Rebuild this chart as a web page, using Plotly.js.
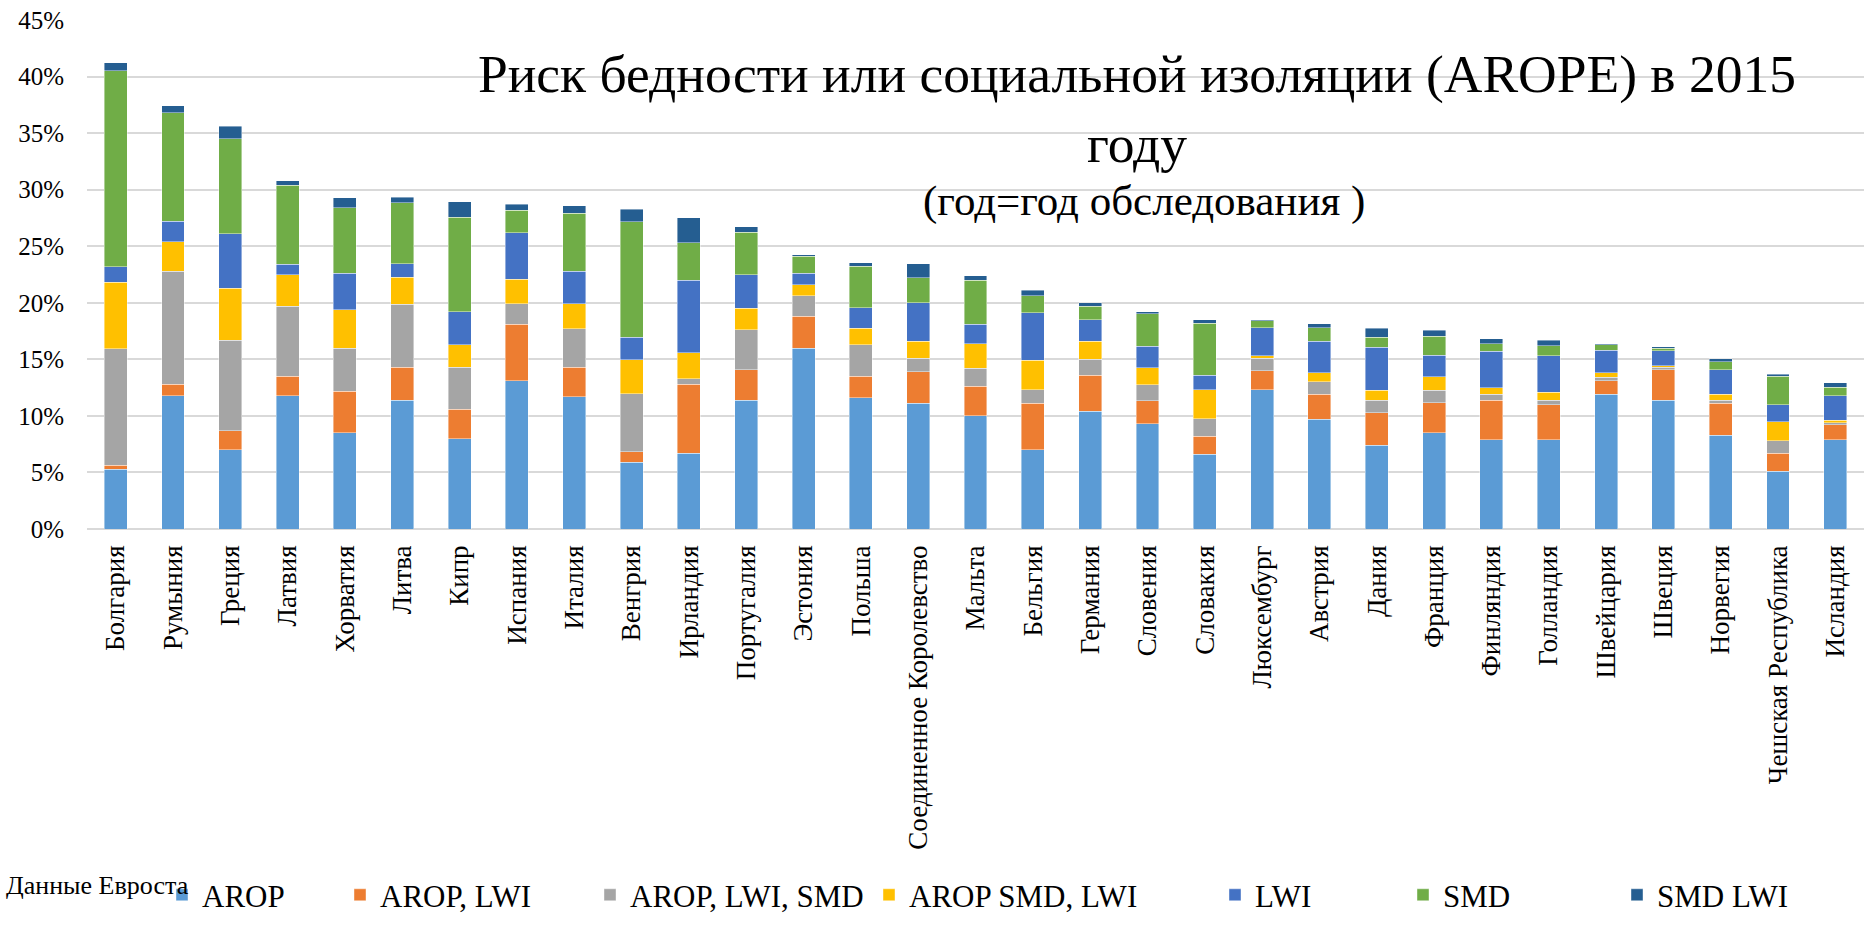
<!DOCTYPE html>
<html>
<head>
<meta charset="utf-8">
<script src="https://cdn.plot.ly/plotly-3.0.1.min.js"></script>
<style>html,body{margin:0;padding:0;background:#fff;}#chart{width:1864px;height:931px;}</style>
</head>
<body>
<div id="chart"></div>
<script>
const countries = ['Болгария','Румыния','Греция','Латвия','Хорватия','Литва','Кипр','Испания','Италия','Венгрия','Ирландия','Португалия','Эстония','Польша','Соединенное Королевство','Мальта','Бельгия','Германия','Словения','Словакия','Люксембург','Австрия','Дания','Франция','Финляндия','Голландия','Швейцария','Швеция','Норвегия','Чешская Республика','Исландия'];

const seriesNames = ['AROP','AROP, LWI','AROP, LWI, SMD','AROP SMD, LWI','LWI','SMD','SMD LWI'];

const arop       = [5.3, 11.8, 7.0, 11.8, 8.5, 11.4, 8.0, 13.1, 11.7, 5.9, 6.7, 11.4, 16.0, 11.6, 11.1, 10.0, 7.0, 10.4, 9.3, 6.6, 12.3, 9.7, 7.4, 8.5, 7.9, 7.9, 11.9, 11.4, 8.3, 5.1, 7.9];
const aropLwi    = [0.35, 1.0, 1.7, 1.7, 3.7, 2.9, 2.6, 5.0, 2.6, 0.95, 6.1, 2.7, 2.8, 1.9, 2.8, 2.6, 4.1, 3.2, 2.05, 1.6, 1.7, 2.2, 2.9, 2.65, 3.5, 3.1, 1.2, 2.7, 2.8, 1.6, 1.3];
const aropLwiSmd = [10.3, 10.0, 8.0, 6.2, 3.8, 5.55, 3.7, 1.8, 3.4, 5.1, 0.5, 3.5, 1.8, 2.8, 1.2, 1.6, 1.2, 1.4, 1.4, 1.55, 1.1, 1.1, 1.1, 1.1, 0.5, 0.4, 0.3, 0.2, 0.3, 1.1, 0.2];
const aropSmdLwi = [5.85, 2.6, 4.6, 2.8, 3.4, 2.4, 2.0, 2.2, 2.2, 3.0, 2.3, 1.9, 1.0, 1.45, 1.5, 2.2, 2.6, 1.6, 1.5, 2.55, 0.2, 0.8, 0.85, 1.2, 0.6, 0.7, 0.4, 0.15, 0.5, 1.7, 0.2];
const lwi        = [1.4, 1.8, 4.8, 0.9, 3.2, 1.2, 2.9, 4.1, 2.9, 2.0, 6.4, 3.0, 1.0, 1.8, 3.4, 1.7, 4.2, 1.9, 1.9, 1.3, 2.5, 2.8, 3.8, 1.9, 3.2, 3.2, 2.0, 1.3, 2.2, 1.5, 2.2];
const smd        = [17.3, 9.6, 8.4, 7.0, 5.8, 5.4, 8.35, 2.0, 5.1, 10.2, 3.3, 3.75, 1.5, 3.7, 2.2, 3.9, 1.5, 1.2, 2.9, 4.6, 0.6, 1.2, 0.9, 1.7, 0.7, 0.9, 0.5, 0.25, 0.7, 2.5, 0.75];
const smdLwi     = [0.7, 0.6, 1.1, 0.4, 0.9, 0.5, 1.4, 0.5, 0.7, 1.1, 2.2, 0.45, 0.15, 0.3, 1.25, 0.4, 0.5, 0.3, 0.15, 0.3, 0.1, 0.35, 0.8, 0.5, 0.4, 0.5, 0.1, 0.12, 0.25, 0.2, 0.4];

const yTickVals = [0, 5, 10, 15, 20, 25, 30, 35, 40, 45];
const yTickText = ['0%','5%','10%','15%','20%','25%','30%','35%','40%','45%'];

const titleText = 'Риск бедности или социальной изоляции (AROPE) в 2015<br>году';
const subtitleText = '(год=год обследования )';
const sourceText = 'Данные Евроста';

const colors = ['#5B9BD5','#ED7D31','#A5A5A5','#FFC000','#4472C4','#70AD47','#255E91'];
const allSeries = [arop, aropLwi, aropLwiSmd, aropSmdLwi, lwi, smd, smdLwi];

const FONT = '"Liberation Serif", "Times New Roman", serif';
const L = 87, W = 1864 - 87, T = 20, H = 509.5;
const px2x = px => (px - L) / W;
const py2y = py => (T + H - py) / H;

const legendCenters = [182, 360, 610, 889, 1235, 1423, 1637];
const legendNames = ['legend','legend2','legend3','legend4','legend5','legend6','legend7'];

const traces = allSeries.map((vals, i) => ({
  type: 'bar',
  name: seriesNames[i],
  x: countries,
  y: vals,
  marker: {color: colors[i], line: {color: 'rgba(255,255,255,0.7)', width: 0.6}},
  legend: legendNames[i],
  hoverinfo: 'x+y+name'
}));

const layout = {
  width: 1864, height: 931,
  margin: {l: L, r: 0, t: T, b: 931 - T - H, autoexpand: false},
  paper_bgcolor: '#fff', plot_bgcolor: '#fff',
  barmode: 'stack',
  bargap: 0.6,
  font: {family: FONT, color: '#000'},
  title: {
    text: titleText,
    font: {family: FONT, size: 53.5, color: '#000'},
    xref: 'container', x: 1137 / 1864, xanchor: 'center',
    yref: 'container', y: 1 - 92 / 931, yanchor: 'top'
  },
  xaxis: {
    type: 'category',
    tickangle: -90,
    tickfont: {family: FONT, size: 27, color: '#000'},
    showgrid: false, showline: false, ticks: '',
    ticklabelstandoff: 10,
    automargin: false
  },
  yaxis: {
    range: [0, 45],
    tickvals: yTickVals, ticktext: yTickText,
    tickfont: {family: FONT, size: 25, color: '#000'},
    gridcolor: '#D9D9D9', gridwidth: 1.5,
    zeroline: true, zerolinecolor: '#D9D9D9', zerolinewidth: 1.5,
    showline: false, ticks: '',
    ticklabelstandoff: 22,
    automargin: false, fixedrange: true
  },
  annotations: [
    {text: subtitleText, xref: 'paper', yref: 'paper', x: px2x(1144), y: py2y(201),
     xanchor: 'center', yanchor: 'middle', showarrow: false,
     font: {family: FONT, size: 43, color: '#000'}},
    {text: sourceText, xref: 'paper', yref: 'paper', x: px2x(4), y: py2y(886),
     xanchor: 'left', yanchor: 'middle', showarrow: false,
     font: {family: FONT, size: 26, color: '#000'}}
  ],
  showlegend: true
};

legendNames.forEach((ln, i) => {
  layout[ln] = {
    orientation: 'h',
    x: px2x(legendCenters[i] - 20), xanchor: 'left',
    y: py2y(896), yanchor: 'middle',
    bgcolor: 'rgba(0,0,0,0)',
    font: {family: FONT, size: 31, color: '#000'},
    itemwidth: 30,
    itemclick: false, itemdoubleclick: false
  };
});

Plotly.newPlot('chart', traces, layout, {displayModeBar: false});
</script>
</body>
</html>
